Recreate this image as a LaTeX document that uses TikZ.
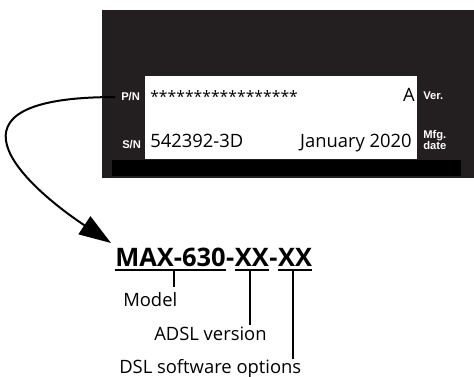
\documentclass[tikz,border=0pt]{standalone}
\usepackage{fontspec}
\setmainfont{Open Sans}
\newfontfamily\tagfont{Liberation Sans}
\usetikzlibrary{arrows.meta}
\definecolor{panelgray}{HTML}{231F20}

\begin{document}
\begin{tikzpicture}[x=0.75pt,y=-0.75pt,
  tag/.style={font=\tagfont\bfseries\fontsize{8.4}{10}\selectfont,text=white,inner sep=0,anchor=base west},
  plate/.style={font=\fontsize{13.8}{16}\selectfont,inner sep=0,anchor=base west},
  pncode/.style={font=\bfseries\fontsize{19.1}{22}\selectfont,inner sep=0,anchor=base west},
  caption/.style={font=\fontsize{13.8}{16}\selectfont,inner sep=0,anchor=base west},
  leader/.style={line width=1.5pt}]
\useasboundingbox (0,0) rectangle (474,377);
% label plate
\fill[panelgray] (102,10) rectangle (474,178);
\fill[white] (145,76) rectangle (417,159);
\fill[black] (112,160) rectangle (461,176);
\node[tag] (pn) at (121,101) {P/N};
\node[tag] (sn) at (122,149) {S/N};
\node[tag] (vertag) at (423,100) {Ver.};
\node[tag] (mfg) at (423,139) {Mfg.};
\node[tag] (mfgdate) at (423,150) {date};
\node[plate,font=\fontsize{11.8}{14}\selectfont] (stars) at (150,103) {*****************};
\node[plate,anchor=base east] (ver) at (415,102) {A};
\node[plate] (serial) at (150,148) {542392-3D};
\node[plate,anchor=base east] (date) at (412,148) {January 2020};
% part number
\node[pncode] (model) at (115,267) {MAX-630};
\node[pncode] (dasha) at (model.base east) {-};
\node[pncode] (adsl) at (dasha.base east) {XX};
\node[pncode] (dashb) at (adsl.base east) {-};
\node[pncode] (dsl) at (dashb.base east) {XX};
\foreach \part in {model,adsl,dsl}
  \draw[leader] ([yshift=-2.5pt]\part.base west) -- ([yshift=-2.5pt]\part.base east);
\node[caption] (lblmodel) at (123,306) {Model};
\node[caption] (lbladsl) at (154,340) {ADSL version};
\node[caption] (lbldsl) at (119,373) {DSL software options};
\coordinate (endmodel) at (174,287);
\coordinate (endadsl) at (250,325);
\coordinate (enddsl) at (293,359);
\draw[leader] (model.base -| endmodel) ++(0,3) -- (endmodel);
\draw[leader] (adsl.base -| endadsl) ++(0,3) -- (endadsl);
\draw[leader] (dsl.base -| enddsl) ++(0,3) -- (enddsl);
% arrow
\coordinate (tip) at (111,243);
\draw[line width=1.5pt,-{Triangle[length=24pt,width=16pt]}] ([xshift=-4.5pt]pn.west) .. controls +(-184,0) and +(-90,-60) .. (tip);
\end{tikzpicture}
\end{document}
